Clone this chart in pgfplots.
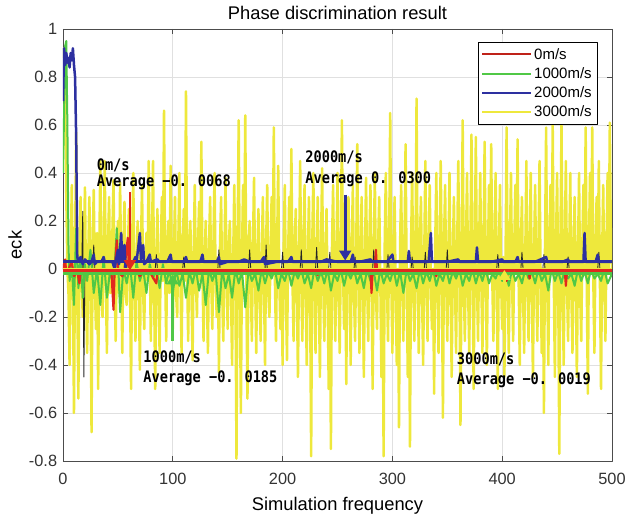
\documentclass[border=0pt]{standalone}
\usepackage{fontspec}
\setmainfont{Liberation Sans}
\newfontfamily\annofont[FakeStretch=0.86]{DejaVu Sans Mono}
\usepackage{pgfplots}
\pgfplotsset{compat=1.18}
\usetikzlibrary{arrows.meta}
\definecolor{cred}{RGB}{225,40,30}
\definecolor{cgreen}{RGB}{80,200,70}
\definecolor{cblue}{RGB}{45,48,160}
\definecolor{cyellow}{RGB}{238,232,60}
\begin{document}
\begin{tikzpicture}
\begin{axis}[
  scale only axis, width=329.4pt, height=259.2pt,
  xmin=0, xmax=500, ymin=-0.8, ymax=1,
  xtick={0,100,200,300,400,500},
  ytick={-0.8,-0.6,-0.4,-0.2,0,0.2,0.4,0.6,0.8,1},
  grid=major, major grid style={black!12, line width=0.4pt},
  tick align=inside, major tick length=3pt,
  axis line style={black!70}, every tick/.style={black!70},
  tick label style={font=\fontsize{9.8}{11}\selectfont, text=black!80},
  xticklabel style={yshift=-3.5pt},
  /pgf/number format/assume math mode=true,
  title={Phase discrimination result},
  title style={font=\fontsize{11}{13}\selectfont, at={(0.5,1)}, anchor=base, yshift=-0.3pt},
  xlabel={Simulation frequency},
  xlabel style={font=\fontsize{11}{13}\selectfont, at={(0.5,0)}, anchor=base, yshift=-29.5pt},
  ylabel={eck},
  ylabel style={font=\fontsize{11}{13}\selectfont, at={(-0.0874,0.5)}, anchor=center},
  legend style={at={(1,1)}, anchor=north east, xshift=-8.4pt, yshift=-7.8pt,
    font=\fontsize{9}{10}\selectfont, draw=black, line width=0.5pt,
    inner xsep=2pt, inner ysep=1.5pt,
    nodes={inner sep=1.5pt, text height=7pt, text depth=1.5pt}},
  legend cell align=left,
  legend image code/.code={\draw[#1] (0pt,0pt) -- (29pt,0pt);},
  line join=round,
]
\addlegendimage{cred!85!black, line width=1.2pt}
\addlegendentry{0m/s}
\addlegendimage{cgreen, line width=1.2pt}
\addlegendentry{1000m/s}
\addlegendimage{cblue, line width=1.2pt}
\addlegendentry{2000m/s}
\addlegendimage{cyellow, line width=1.2pt}
\addlegendentry{3000m/s}

% 3000 m/s
\addplot[forget plot, cyellow, line width=1.5pt] coordinates {
(0,0.88)(1,0.92)(2,0.70)(3,0.30)(4,0.0)(5,-0.10)(6,-0.40)(7,0.05)(8,0.35)(9,-0.05)
(10,-0.60)(11,0.10)(12,0.57)(13,-0.10)(14,-0.54)(15,0.05)(16,0.30)(17,-0.05)(18,-0.20)(19,0.10)
(20,0.34)(21,-0.10)(22,-0.35)(23,0.05)(24,0.30)(25,0.0)(26,-0.68)(27,0.10)(28,0.33)(29,-0.05)
(30,-0.25)(31,0.15)(32,-0.50)(33,0.05)(34,0.45)(35,-0.10)(36,-0.20)(37,0.10)(38,0.45)(39,-0.05)
(40,-0.35)(41,0.10)(42,0.30)(43,-0.10)(44,-0.10)(45,0.15)(46,0.37)(47,-0.05)(48,-0.30)(49,0.05)
(50,0.20)(51,-0.10)(52,0.36)(53,0.0)(54,-0.35)(55,0.10)(56,0.28)(57,-0.10)(58,-0.15)(59,0.05)
(60,0.25)(61,-0.05)(62,-0.50)(63,0.10)(64,0.40)(65,-0.10)(66,-0.30)(67,0.05)(68,0.20)(69,-0.05)
(70,-0.42)(71,0.10)(72,0.35)(73,-0.10)(74,-0.25)(75,0.05)(76,0.15)(77,-0.05)(78,0.45)(79,0.05)
(80,-0.30)(81,0.10)(82,0.45)(83,-0.10)(84,-0.50)(85,0.05)(86,0.25)(87,-0.10)(88,-0.35)(89,0.05)
(90,0.30)(91,-0.05)(92,0.66)(93,0.0)(94,-0.30)(95,0.10)(96,0.20)(97,-0.10)(98,0.43)(99,0.05)
(100,-0.25)(101,0.05)(102,0.30)(103,-0.10)(104,-0.20)(105,0.10)(106,0.40)(107,-0.05)(108,-0.35)(109,0.10)
(110,0.25)(111,-0.05)(112,0.74)(113,0.0)(114,-0.30)(115,0.10)(116,0.20)(117,-0.10)(118,-0.38)(119,0.05)
(120,0.35)(121,-0.05)(122,-0.20)(123,0.10)(124,0.28)(125,-0.05)(126,0.53)(127,0.0)(128,-0.30)(129,0.05)
(130,0.20)(131,-0.10)(132,-0.35)(133,0.10)(134,0.30)(135,-0.05)(136,-0.25)(137,0.10)(138,0.40)(139,-0.05)
(140,-0.20)(141,0.05)(142,-0.43)(143,0.10)(144,0.30)(145,-0.10)(146,-0.30)(147,0.05)(148,0.38)(149,-0.05)
(150,-0.25)(151,0.10)(152,0.20)(153,-0.10)(154,-0.40)(155,0.05)(156,0.35)(157,-0.05)(158,-0.79)(159,0.10)
(160,0.62)(161,-0.05)(162,-0.60)(163,0.05)(164,0.35)(165,0.0)(166,0.64)(167,-0.10)(168,-0.54)(169,0.10)
(170,0.20)(171,-0.05)(172,-0.30)(173,0.10)(174,0.38)(175,-0.05)(176,-0.35)(177,0.05)(178,0.25)(179,-0.10)
(180,-0.30)(181,0.05)(182,0.30)(183,-0.05)(184,-0.40)(185,0.10)(186,0.35)(187,-0.10)(188,-0.20)(189,0.05)
(190,0.30)(191,0.0)(192,0.59)(193,-0.05)(194,-0.30)(195,0.10)(196,0.43)(197,-0.05)(198,-0.25)(199,0.0)
(200,-0.40)(201,0.10)(202,0.35)(203,-0.10)(204,-0.38)(205,0.05)(206,0.30)(207,0.0)(208,0.50)(209,-0.05)
(210,-0.30)(211,0.10)(212,0.25)(213,-0.10)(214,-0.45)(215,0.05)(216,0.45)(217,-0.05)(218,-0.30)(219,0.10)
(220,0.35)(221,-0.10)(222,-0.40)(223,0.05)(224,0.30)(225,-0.05)(226,-0.78)(227,0.10)(228,0.40)(229,-0.05)
(230,-0.35)(231,0.05)(232,0.30)(233,-0.10)(234,-0.45)(235,0.10)(236,0.42)(237,-0.05)(238,-0.30)(239,0.05)
(240,0.25)(241,-0.10)(242,-0.50)(243,0.0)(244,-0.75)(245,0.10)(246,0.35)(247,-0.05)(248,-0.30)(249,0.05)
(250,0.40)(251,-0.10)(252,-0.35)(253,0.05)(254,0.62)(255,0.0)(256,-0.25)(257,0.05)(258,-0.48)(259,0.10)
(260,0.30)(261,-0.05)(262,-0.40)(263,0.10)(264,0.35)(265,-0.10)(266,-0.30)(267,0.05)(268,0.52)(269,-0.05)
(270,-0.35)(271,0.10)(272,0.30)(273,-0.10)(274,-0.45)(275,0.05)(276,0.38)(277,-0.05)(278,-0.30)(279,0.10)
(280,0.35)(281,-0.05)(282,-0.50)(283,0.05)(284,0.40)(285,-0.10)(286,-0.25)(287,0.10)(288,0.30)(289,-0.05)
(290,-0.45)(291,0.0)(292,-0.78)(293,0.10)(294,0.40)(295,-0.05)(296,-0.30)(297,0.10)(298,0.65)(299,-0.05)
(300,-0.35)(301,0.05)(302,0.30)(303,-0.10)(304,-0.40)(305,0.0)(306,-0.66)(307,0.10)(308,0.35)(309,-0.05)
(310,-0.30)(311,0.10)(312,0.52)(313,-0.05)(314,-0.45)(315,0.0)(316,-0.74)(317,0.10)(318,0.40)(319,-0.05)
(320,-0.30)(321,0.05)(322,0.71)(323,-0.05)(324,-0.35)(325,0.10)(326,0.30)(327,-0.10)(328,-0.40)(329,0.05)
(330,0.45)(331,-0.05)(332,-0.30)(333,0.10)(334,0.35)(335,-0.05)(336,-0.25)(337,0.0)(338,-0.52)(339,0.10)
(340,0.40)(341,-0.05)(342,-0.35)(343,0.10)(344,0.45)(345,0.0)(346,-0.62)(347,0.10)(348,0.35)(349,-0.05)
(350,-0.30)(351,0.05)(352,0.40)(353,-0.10)(354,-0.45)(355,0.05)(356,0.30)(357,-0.05)(358,-0.35)(359,0.10)
(360,0.45)(361,0.0)(362,-0.65)(363,0.05)(364,0.62)(365,-0.05)(366,-0.30)(367,0.10)(368,0.40)(369,-0.10)
(370,-0.35)(371,0.10)(372,0.56)(373,0.0)(374,-0.50)(375,0.05)(376,0.55)(377,-0.05)(378,-0.30)(379,0.10)
(380,0.40)(381,-0.05)(382,-0.35)(383,0.10)(384,0.53)(385,-0.05)(386,-0.40)(387,0.05)(388,0.35)(389,0.0)
(390,0.52)(391,-0.05)(392,-0.30)(393,0.10)(394,0.40)(395,-0.05)(396,-0.50)(397,0.10)(398,0.35)(399,-0.05)
(400,-0.25)(401,0.05)(402,-0.45)(403,0.0)(404,0.59)(405,-0.05)(406,-0.35)(407,0.10)(408,0.40)(409,-0.05)
(410,-0.30)(411,0.10)(412,0.35)(413,0.0)(414,0.54)(415,-0.05)(416,-0.40)(417,0.10)(418,0.30)(419,-0.10)
(420,-0.35)(421,0.05)(422,0.45)(423,-0.05)(424,-0.30)(425,0.10)(426,0.40)(427,-0.10)(428,-0.45)(429,0.05)
(430,0.35)(431,-0.05)(432,-0.30)(433,0.10)(434,0.45)(435,-0.05)(436,-0.35)(437,0.0)(438,-0.60)(439,0.10)
(440,0.59)(441,-0.05)(442,-0.40)(443,0.10)(444,0.35)(445,0.0)(446,0.60)(447,-0.05)(448,-0.45)(449,0.10)
(450,0.40)(451,-0.05)(452,-0.77)(453,0.10)(454,0.60)(455,-0.05)(456,-0.40)(457,0.10)(458,0.45)(459,-0.05)
(460,-0.30)(461,0.05)(462,0.40)(463,-0.10)(464,-0.35)(465,0.10)(466,0.30)(467,-0.05)(468,-0.45)(469,0.05)
(470,0.40)(471,-0.10)(472,-0.30)(473,0.10)(474,0.35)(475,0.0)(476,0.59)(477,-0.05)(478,-0.52)(479,0.10)
(480,0.40)(481,0.0)(482,0.59)(483,-0.05)(484,-0.35)(485,0.10)(486,0.30)(487,0.0)(488,0.45)(489,-0.05)
(490,-0.50)(491,0.05)(492,0.35)(493,-0.05)(494,-0.30)(495,0.10)(496,0.40)(497,0.0)(498,0.61)(499,0.10)
(500,0.0)};

% thin dark spikes
\addplot[forget plot, black!85, line width=0.5pt] coordinates {
(0,0)(17,0)(18,0.24)(19,-0.45)(20,0)(27,0)(28,0.10)(29,0)(84,0)(85,0.06)(86,0)(109,0)(110,0.05)(111,0)
(141,0)(142,0.08)(143,0)(169,0)(170,0.08)(171,0)(184,0)(185,0.10)(186,0)(199,0)(200,0.07)(201,0)
(216,0)(217,0.08)(218,0)(230,0)(231,0.09)(232,0)(242,0)(243,0.07)(244,0)(265,0)(266,0.05)(267,0)
(282,0)(283,0.08)(284,0)(295,0)(296,0.06)(297,0)(317,0)(318,0.05)(319,0)(329,0)(330,0.07)(331,0)
(349,0)(350,0.08)(351,0)(395,0)(396,0.06)(397,0)(417,0)(418,0.07)(419,0)(437,0)(438,0.06)(439,0)
(459,0)(460,0.05)(461,0)(487,0)(488,0.07)(489,0)(500,0)};

% 1000 m/s
\addplot[forget plot, cgreen, line width=1.2pt] coordinates {
(0,0.40)(1,0.65)(2,0.93)(3,0.95)(4,0.60)(5,0.10)(6,-0.05)(8,0.02)(10,-0.15)(12,0.17)(14,-0.08)(16,0.05)
(18,-0.12)(20,0.02)(22,-0.05)(25,0.08)(28,-0.10)(31,0.0)(34,-0.15)(37,0.05)(40,-0.12)(43,0.0)(46,-0.08)
(49,0.17)(52,-0.18)(55,0.0)(58,-0.06)(61,0.02)(64,-0.12)(67,0.03)(70,-0.05)(73,0.0)(76,-0.10)(79,0.02)
(82,-0.04)(85,0.0)(88,-0.08)(91,0.02)(94,-0.06)(97,0.0)(100,-0.10)(103,0.0)(106,-0.07)(109,-0.02)
(112,-0.12)(115,-0.01)(118,-0.06)(121,0.0)(124,-0.09)(127,-0.02)(130,-0.15)(133,0.0)(136,-0.05)
(139,-0.01)(142,-0.18)(145,0.0)(148,-0.08)(151,-0.02)(154,-0.12)(157,0.0)(160,-0.06)(163,-0.01)
(166,-0.16)(169,0.0)(172,-0.05)(175,-0.02)(178,-0.09)(181,0.0)(184,-0.06)(187,-0.01)(190,-0.04)
(193,0.0)(196,-0.08)(199,-0.02)(202,-0.05)(205,0.0)(208,-0.07)(211,-0.01)(214,-0.04)(217,0.0)
(220,-0.06)(223,-0.02)(226,-0.08)(229,0.0)(232,-0.05)(235,-0.01)(238,-0.06)(241,0.0)(244,-0.09)
(247,-0.02)(250,-0.05)(253,0.0)(256,-0.07)(259,-0.01)(262,-0.04)(265,0.0)(268,-0.06)(271,-0.02)
(274,-0.08)(277,0.0)(280,-0.05)(283,-0.01)(286,-0.09)(289,0.0)(292,-0.06)(295,-0.02)(298,-0.05)
(301,0.0)(304,-0.07)(307,-0.01)(310,-0.10)(313,0.0)(316,-0.05)(319,-0.02)(322,-0.08)(325,0.0)
(328,-0.06)(331,-0.01)(334,-0.05)(337,0.0)(340,-0.07)(343,-0.02)(346,-0.05)(349,0.0)(352,-0.06)
(355,-0.01)(358,-0.04)(361,0.0)(364,-0.07)(367,-0.02)(370,-0.05)(373,0.0)(376,-0.06)(379,-0.01)
(382,-0.05)(385,0.0)(388,-0.06)(391,-0.02)(394,-0.04)(397,0.0)(400,-0.05)(403,-0.01)(406,-0.07)
(409,0.0)(412,-0.05)(415,-0.02)(418,-0.06)(421,0.0)(424,-0.04)(427,-0.01)(430,-0.06)(433,0.0)
(436,-0.05)(439,-0.02)(442,-0.09)(445,0.0)(448,-0.05)(451,-0.01)(454,-0.06)(457,0.0)(460,-0.04)
(463,-0.02)(466,-0.07)(469,0.0)(472,-0.05)(475,-0.01)(478,-0.06)(481,0.0)(484,-0.04)(487,-0.02)
(490,-0.05)(493,0.0)(496,-0.06)(500,-0.02)};

% 0 m/s
\addplot[forget plot, cred, line width=1.3pt] coordinates {
(0,0.0)(2,0.04)(3,-0.02)(5,0.0)(8,0.03)(10,-0.03)(13,-0.01)(15,-0.06)(16,-0.01)(20,0.0)(25,-0.02)
(30,0.0)(38,-0.02)(44,0.0)(46,-0.17)(47,-0.01)(49,0.12)(50,-0.01)(54,-0.03)(56,0.0)(59,0.13)
(60,-0.01)(65,0.0)(70,-0.03)(75,0.0)(80,-0.02)(85,-0.06)(86,-0.01)(90,0.0)(110,-0.02)(111,-0.01)
(150,-0.01)(200,-0.01)(231,-0.01)(232,-0.025)(233,-0.01)(280,-0.01)(281,-0.10)(282,-0.01)
(284,-0.01)(285,0.08)(286,-0.01)(339,-0.01)(340,-0.03)(341,-0.01)(403,-0.01)(404,-0.05)(405,-0.01)
(424,-0.01)(425,-0.04)(426,-0.01)(457,-0.01)(458,-0.07)(459,-0.01)(500,-0.01)};

% 2000 m/s
\addplot[forget plot, cblue, line width=1.5pt] coordinates {
(0,0.70)(1,0.92)(2,0.85)(3,0.90)(4,0.86)(5,0.88)(6,0.84)(7,0.90)(8,0.87)(9,0.92)(10,0.85)(11,0.80)
(12,0.55)(13,0.05)(14,0.03)(16,0.05)(18,0.02)(20,0.04)(22,0.03)(24,0.02)(26,0.03)(28,0.06)(29,0.02)
(31,0.03)(35,0.03)(37,0.05)(38,0.03)(45,0.03)(47,0.0)(48,0.03)(50,0.08)(51,0.02)(53,0.15)(54,0.03)
(56,0.10)(57,0.0)(58,0.03)(64,0.03)(66,0.05)(67,0.03)(70,0.15)(71,0.04)(73,0.10)(74,0.02)(76,0.03)
(79,0.06)(80,0.03)(86,0.04)(88,0.03)(95,0.03)(98,0.06)(99,0.03)(110,0.03)(112,0.05)(113,0.03)
(125,0.03)(127,0.06)(128,0.03)(140,0.03)(142,0.05)(143,0.02)(150,0.03)(160,0.03)(165,0.04)(170,0.03)
(180,0.03)(183,0.05)(184,0.02)(195,0.03)(205,0.03)(208,0.05)(209,0.03)(220,0.03)(235,0.03)(240,0.04)
(250,0.03)(262,0.03)(264,0.06)(265,0.03)(270,0.03)(280,0.04)(282,0.03)(295,0.03)(300,0.06)(301,0.03)
(314,0.03)(315,0.075)(316,0.03)(333,0.03)(335,0.15)(336,0.03)(350,0.03)(360,0.04)(361,0.03)(376,0.03)
(377,0.09)(378,0.03)(390,0.03)(400,0.04)(401,0.03)(412,0.03)(414,0.05)(415,0.03)(430,0.03)(440,0.05)
(441,0.03)(455,0.03)(460,0.04)(461,0.03)(474,0.03)(475,0.15)(476,0.03)(485,0.03)(487,0.06)(488,0.03)
(500,0.03)};

% averages
\addplot[forget plot, cyellow, line width=1.8pt] coordinates {(0,-0.0019)(500,-0.0019)};
\addplot[forget plot, cgreen, line width=1.8pt] coordinates {(0,-0.0185)(500,-0.0185)};
\addplot[forget plot, cred, line width=1.8pt] coordinates {(0,-0.0068)(500,-0.0068)};
\addplot[forget plot, cblue, line width=1.8pt] coordinates {(0,0.0300)(500,0.0300)};

% arrows
\addplot[forget plot, cred, line width=1.6pt, -{Triangle[length=6pt,width=7pt]}] coordinates {(61,0.32)(61,-0.005)};
\addplot[forget plot, cblue, line width=1.6pt, -{Triangle[length=6pt,width=7pt]}] coordinates {(257,0.31)(257,0.035)};
\addplot[forget plot, cgreen, line width=1.6pt, -{Triangle[length=6pt,width=7pt]}] coordinates {(100,-0.30)(100,-0.022)};
\addplot[forget plot, cyellow, line width=1.6pt, -{Triangle[length=6pt,width=7pt]}] coordinates {(402,-0.07)(402,-0.004)};

% annotations
\begin{scope}[every node/.style={anchor=west, inner sep=0pt, font=\fontsize{9.5}{10}\annofont\bfseries}]
\node at (axis cs:30.5,0.43) {0m/s};
\node at (axis cs:30.5,0.36) {Average −0. 0068};
\node at (axis cs:220.5,0.467) {2000m/s};
\node at (axis cs:220.5,0.375) {Average 0. 0300};
\node at (axis cs:73,-0.367) {1000m/s};
\node at (axis cs:73,-0.455) {Average −0. 0185};
\node at (axis cs:358.5,-0.375) {3000m/s};
\node at (axis cs:358.5,-0.462) {Average −0. 0019};
\end{scope}
\end{axis}
\pgfresetboundingbox
\path (current axis.south west) +(-37.8pt,-33.6pt);
\path (current axis.north east) +(7.8pt,17.4pt);
\end{tikzpicture}
\end{document}
